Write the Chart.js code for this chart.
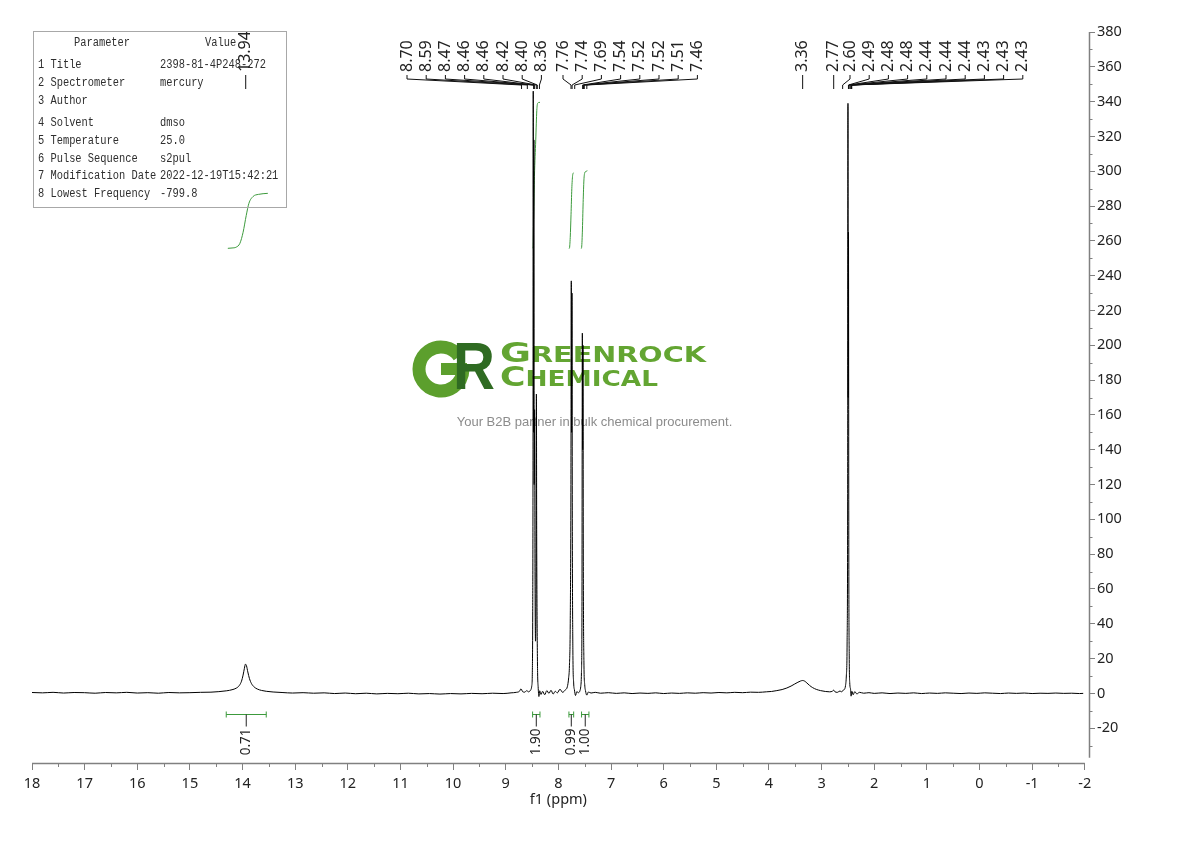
<!DOCTYPE html>
<html>
<head>
<meta charset="utf-8">
<script src="https://cdn.jsdelivr.net/npm/chart.js@4.4.0/dist/chart.umd.min.js"></script>
<style>
  html, body { margin: 0; padding: 0; background: #fff; }
  #wrap { width: 1190px; height: 841px; }
</style>
</head>
<body>
<div id="wrap"><canvas id="nmr" width="1190" height="841"></canvas></div>
<script>
// Espectro: deslocamento (ppm) e intensidade
const specPpm = [
  18.00, 17.80, 17.60, 17.40, 17.20, 17.00, 16.80, 16.60, 16.40, 16.20, 16.00, 15.80, 15.60, 15.40, 15.20, 15.00,
  14.80, 14.60, 14.45, 14.30, 14.20, 14.12, 14.06, 14.02, 13.99, 13.965, 13.945, 13.925, 13.90, 13.87, 13.83, 13.78,
  13.72, 13.64, 13.55, 13.42, 13.25, 13.05, 12.85, 12.65, 12.45, 12.25, 12.05, 11.85, 11.65, 11.45, 11.25, 11.05,
  10.85, 10.65, 10.45, 10.25, 10.05, 9.85, 9.65, 9.45, 9.25, 9.05, 8.90, 8.80, 8.74, 8.71, 8.68, 8.64, 8.60, 8.57,
  8.53, 8.505, 8.495, 8.488, 8.482, 8.478, 8.472, 8.466, 8.460, 8.452, 8.444, 8.435, 8.424, 8.418, 8.412, 8.404,
  8.395, 8.385, 8.37, 8.355, 8.33, 8.30, 8.26, 8.22, 8.18, 8.14, 8.10, 8.06, 8.02, 7.97, 7.92, 7.87, 7.83, 7.805,
  7.79, 7.775, 7.762, 7.755, 7.749, 7.742, 7.735, 7.725, 7.71, 7.695, 7.675, 7.65, 7.62, 7.59, 7.575, 7.562, 7.552,
  7.545, 7.539, 7.533, 7.526, 7.515, 7.50, 7.485, 7.46, 7.43, 7.38, 7.30, 7.20, 7.05, 6.90, 6.75, 6.60, 6.45, 6.30,
  6.15, 6.00, 5.85, 5.70, 5.55, 5.40, 5.25, 5.10, 4.95, 4.80, 4.65, 4.50, 4.35, 4.20, 4.05, 3.95, 3.85, 3.75, 3.66,
  3.58, 3.51, 3.45, 3.40, 3.36, 3.32, 3.28, 3.23, 3.17, 3.10, 3.02, 2.93, 2.85, 2.79, 2.77, 2.75, 2.70, 2.65, 2.62,
  2.60, 2.57, 2.545, 2.53, 2.515, 2.505, 2.499, 2.494, 2.489, 2.483, 2.475, 2.465, 2.45, 2.44, 2.425, 2.40, 2.37,
  2.33, 2.28, 2.20, 2.10, 2.00, 1.85, 1.70, 1.55, 1.40, 1.25, 1.10, 0.95, 0.80, 0.65, 0.50, 0.35, 0.20, 0.05, -0.10,
  -0.25, -0.40, -0.55, -0.70, -0.85, -1.00, -1.15, -1.30, -1.45, -1.60, -1.75, -1.90, -1.97
];
const specInt = [
  0.5, 0.3, 0.6, 0.2, 0.5, 0.4, 0.1, 0.5, 0.3, 0.6, 0.2, 0.4, 0.1, 0.5, 0.3, 0.4,
  0.6, 0.7, 1.0, 1.5, 2.1, 3.0, 4.6, 7.0, 10.5, 14.4, 16.8, 15.8, 12.3, 8.6, 5.6, 3.7,
  2.5, 1.7, 1.2, 0.8, 0.5, 0.2, 0.4, 0.1, 0.3, -0.1, 0.2, -0.2, 0.1, -0.3, 0.0, -0.2,
  0.1, -0.3, -0.1, -0.4, -0.1, -0.3, 0.0, -0.2, 0.1, -0.1, 0.3, 0.6, 1.2, 2.6, 1.0, 0.7, 1.6, 0.9,
  1.8, 4.5, 12, 45, 140, 346, 150, 318, 120, 163, 70, 30, 60, 172, 90, 40,
  12, 4, -1.8, 1.5, -0.6, 1.2, -0.8, 1.6, 0.0, 1.8, -0.4, 1.2, 0.3, 2.4, 0.6, 2.0, 3.8, 9,
  16, 40, 120, 237, 150, 230, 90, 25, 6, 2.0, -1.2, 1.0, 0.4, 1.6, 4, 12, 50,
  207, 140, 200, 70, 18, 5, 1.5, -1.0, 0.8, 0.2, 0.6, 0.1, 0.4, 0.0, 0.3, -0.1, 0.2, 0.0,
  0.3, -0.1, 0.2, 0.0, 0.3, 0.1, 0.4, 0.2, 0.5, 0.3, 0.6, 0.4, 0.7, 0.6, 0.9, 1.1, 1.6, 2.2, 3.1,
  4.2, 5.4, 6.4, 7.1, 7.4, 7.0, 6.0, 4.6, 3.3, 2.3, 1.6, 1.1, 0.9, 1.3, 1.9, 1.0, 0.6, 1.4, 0.8,
  1.6, 2.2, 4.5, 10, 30, 110, 339, 170, 265, 80, 22, 6, 2.5, -1.6, 1.2, -0.8, 1.0,
  -0.3, 0.6, 0.1, 0.4, 0.0, 0.3, -0.1, 0.2, 0.0, 0.3, -0.1, 0.2, 0.0, 0.3, 0.1, -0.1, 0.2, 0.0, 0.3,
  0.1, -0.1, 0.2, 0.0, 0.2, -0.1, 0.1, 0.0, 0.2, 0.0, 0.1, -0.1, 0.0
];

// Curvas de integral (mesma escala vertical)
const int1Ppm = [14.28, 14.20, 14.12, 14.05, 13.99, 13.93, 13.88, 13.80, 13.70, 13.52];
const int1Val = [255.7, 255.9, 256.4, 258.6, 264.9, 274.6, 281.5, 285.5, 286.7, 287.3];
const int2Ppm = [8.490, 8.480, 8.470, 8.455, 8.430, 8.410, 8.395, 8.370, 8.350];
const int2Val = [255.8, 256.5, 275, 297, 318, 335, 339, 339.5, 339.6];
const int3Ppm = [7.800, 7.790, 7.775, 7.760, 7.745, 7.730, 7.720, 7.710];
const int3Val = [255.6, 255.8, 262, 275, 290, 297.5, 298.8, 299.2];
const int4Ppm = [7.570, 7.560, 7.545, 7.530, 7.515, 7.500, 7.470, 7.450];
const int4Val = [255.6, 256, 265, 282, 295, 299, 300, 300.3];

// Faixas e valores das integrais
const integralFrom = [14.31, 8.49, 7.80, 7.56];
const integralTo = [13.55, 8.35, 7.71, 7.42];
const integralText = ['0.71', '1.90', '0.99', '1.00'];

// Rótulos de picos
const peakLabelsA = ['13.94'];
const peakLabelsB = ['8.70', '8.59', '8.47', '8.46', '8.46', '8.42', '8.40', '8.36'];
const peakLabelsC = ['7.76', '7.74', '7.69', '7.54', '7.52', '7.52', '7.51', '7.46'];
const peakLabelsD = ['3.36'];
const peakLabelsE = ['2.77'];
const peakLabelsF = ['2.60', '2.49', '2.48', '2.48', '2.44', '2.44', '2.44', '2.43', '2.43', '2.43'];

// Eixos
const xTicks = [18, 17, 16, 15, 14, 13, 12, 11, 10, 9, 8, 7, 6, 5, 4, 3, 2, 1, 0, -1, -2];
const yTicks = [-20, 0, 20, 40, 60, 80, 100, 120, 140, 160, 180, 200, 220, 240, 260, 280, 300, 320, 340, 360, 380];

// Tabela de parâmetros
const paramNames = ['1 Title', '2 Spectrometer', '3 Author', '4 Solvent', '5 Temperature', '6 Pulse Sequence', '7 Modification Date', '8 Lowest Frequency'];
const paramValues = ['2398-81-4P248-272', 'mercury', '', 'dmso', '25.0', 's2pul', '2022-12-19T15:42:21', '-799.8'];

// layout dos grupos de rótulos (x inicial em px, null = sobre o pico)
const labelRows = [
  { labels: peakLabelsA, x0: null },
  { labels: peakLabelsB, x0: 407 },
  { labels: peakLabelsC, x0: 563 },
  { labels: peakLabelsD, x0: null },
  { labels: peakLabelsE, x0: null },
  { labels: peakLabelsF, x0: 850 }
];
const LABEL_STEP = 19.2;
const GREEN = '#3c9a3c';
const AXIS_GRAY = '#808080';

const pts = (xs, ys) => xs.map((x, i) => ({ x: x, y: ys[i] }));

// Marca d'água
const watermark = {
  id: 'watermark',
  beforeDatasetsDraw(chart) {
    const ctx = chart.ctx;
    ctx.save();
    ctx.strokeStyle = '#5c9f2d';
    ctx.lineWidth = 13;
    ctx.beginPath();
    ctx.arc(441, 369, 22, -0.6, 0.02, true);
    ctx.stroke();
    ctx.fillStyle = '#5c9f2d';
    ctx.fillRect(441, 363, 26, 12);

    ctx.fillStyle = '#2f6b22';
    ctx.font = 'bold 66px "Liberation Sans"';
    ctx.textBaseline = 'alphabetic';
    ctx.save();
    ctx.translate(453, 389);
    ctx.scale(0.88, 1);
    ctx.fillText('R', 0, 0);
    ctx.restore();

    const word = (big, rest, x, y, width) => {
      ctx.save();
      ctx.font = 'bold 27px "DejaVu Sans"';
      const w1 = ctx.measureText(big).width;
      ctx.font = 'bold 20.5px "DejaVu Sans"';
      const w2 = ctx.measureText(rest).width;
      const k = width / (w1 + w2);
      ctx.translate(x, y);
      ctx.scale(k, 1);
      ctx.fillStyle = '#63a532';
      ctx.font = 'bold 27px "DejaVu Sans"';
      ctx.fillText(big, 0, 0);
      ctx.font = 'bold 20.5px "DejaVu Sans"';
      ctx.fillText(rest, w1, 0);
      ctx.restore();
    };
    word('G', 'REENROCK', 500, 362, 206);
    word('C', 'HEMICAL', 500, 386, 158);

    ctx.fillStyle = '#8c8c8c';
    ctx.font = '13px "Liberation Sans"';
    ctx.textAlign = 'center';
    ctx.fillText('Your B2B partner in bulk chemical procurement.', 594.5, 425.5);
    ctx.restore();
  }
};

// Linhas dos eixos, ticks menores, rótulos, integrais e tabela
const annotations = {
  id: 'annotations',
  afterDraw(chart) {
    const { ctx, chartArea } = chart;
    const xs = chart.scales.x, ys = chart.scales.y;
    ctx.save();

    // eixos
    ctx.strokeStyle = AXIS_GRAY;
    ctx.lineWidth = 1.5;
    ctx.beginPath();
    ctx.moveTo(xs.getPixelForValue(18), chartArea.bottom + 0.5);
    ctx.lineTo(xs.getPixelForValue(-2), chartArea.bottom + 0.5);
    ctx.stroke();
    ctx.beginPath();
    ctx.moveTo(chartArea.right + 0.5, ys.getPixelForValue(380));
    ctx.lineTo(chartArea.right + 0.5, ys.getPixelForValue(-37));
    ctx.stroke();

    ctx.lineWidth = 1;
    ctx.beginPath();
    xTicks.slice(0, -1).forEach(v => {
      const px = Math.round(xs.getPixelForValue(v - 0.5)) + 0.5;
      ctx.moveTo(px, chartArea.bottom);
      ctx.lineTo(px, chartArea.bottom + 4);
    });
    yTicks.forEach(v => {
      const py = Math.round(ys.getPixelForValue(v - 10)) + 0.5;
      ctx.moveTo(chartArea.right, py);
      ctx.lineTo(chartArea.right + 3.5, py);
    });
    ctx.stroke();

    // título do eixo x
    ctx.fillStyle = '#222';
    ctx.font = '14.5px "Noto Sans"';
    ctx.textAlign = 'center';
    ctx.textBaseline = 'middle';
    ctx.fillText('f1 (ppm)', xs.getPixelForValue(8), 800);

    // rótulos dos picos
    ctx.strokeStyle = '#111';
    ctx.lineWidth = 1;
    ctx.font = '16px "Noto Sans"';
    labelRows.forEach(row => {
      row.labels.forEach((t, i) => {
        const px = xs.getPixelForValue(parseFloat(t));
        const lx = row.x0 === null ? px : row.x0 + i * LABEL_STEP;
        ctx.beginPath();
        ctx.moveTo(lx, 75);
        ctx.lineTo(lx, 79);
        ctx.lineTo(px, 85);
        ctx.lineTo(px, 89);
        ctx.stroke();
        ctx.save();
        ctx.translate(lx, 72);
        ctx.rotate(-Math.PI / 2);
        ctx.textAlign = 'left';
        ctx.textBaseline = 'middle';
        ctx.fillText(t, 0, 0);
        ctx.restore();
      });
    });

    // colchetes das integrais
    const by = Math.round(ys.getPixelForValue(-12)) + 0.5;
    ctx.font = '13.5px "Noto Sans"';
    integralText.forEach((t, i) => {
      const a = xs.getPixelForValue(integralFrom[i]);
      const b = xs.getPixelForValue(integralTo[i]);
      const c = (a + b) / 2;
      ctx.strokeStyle = GREEN;
      ctx.beginPath();
      ctx.moveTo(a, by); ctx.lineTo(b, by);
      ctx.moveTo(a, by - 3); ctx.lineTo(a, by + 3);
      ctx.moveTo(b, by - 3); ctx.lineTo(b, by + 3);
      ctx.stroke();
      ctx.strokeStyle = '#222';
      ctx.beginPath();
      ctx.moveTo(c, by); ctx.lineTo(c, by + 12);
      ctx.stroke();
      ctx.save();
      ctx.translate(c, by + 14);
      ctx.rotate(-Math.PI / 2);
      ctx.textAlign = 'right';
      ctx.textBaseline = 'middle';
      ctx.fillStyle = '#222';
      ctx.fillText(t, 0, 0);
      ctx.restore();
    });

    // tabela de parâmetros (fonte mono esticada na vertical)
    ctx.strokeStyle = '#a8a8a8';
    ctx.lineWidth = 1;
    ctx.strokeRect(33.5, 31.5, 253, 176);
    ctx.fillStyle = '#2e2e2e';
    ctx.font = '12px "Liberation Mono"';
    ctx.textBaseline = 'middle';
    ctx.textAlign = 'left';
    const mono = (s, x, y) => {
      ctx.save();
      ctx.translate(x, y);
      ctx.scale(0.865, 1);
      ctx.fillText(s, 0, 0);
      ctx.restore();
    };
    mono('Parameter', 74, 43);
    mono('Value', 205, 43);
    const rowY = [65, 83, 101, 123, 141, 159, 176, 194];
    paramNames.forEach((n, i) => {
      mono(n, 38, rowY[i]);
      mono(paramValues[i], 160, rowY[i]);
    });
    ctx.restore();
  }
};

const tickFont = { family: 'Noto Sans', size: 14.5 };

new Chart(document.getElementById('nmr'), {
  type: 'line',
  data: {
    datasets: [
      { data: pts(specPpm, specInt), borderColor: '#000', borderWidth: 1, cubicInterpolationMode: 'monotone' },
      { data: pts(int1Ppm, int1Val), borderColor: GREEN, borderWidth: 1, cubicInterpolationMode: 'monotone' },
      { data: pts(int2Ppm, int2Val), borderColor: GREEN, borderWidth: 1, cubicInterpolationMode: 'monotone' },
      { data: pts(int3Ppm, int3Val), borderColor: GREEN, borderWidth: 1, cubicInterpolationMode: 'monotone' },
      { data: pts(int4Ppm, int4Val), borderColor: GREEN, borderWidth: 1, cubicInterpolationMode: 'monotone' }
    ]
  },
  options: {
    responsive: false,
    animation: false,
    devicePixelRatio: 1,
    layout: { padding: { left: 32, top: 32, right: 0, bottom: 0 } },
    elements: { point: { radius: 0 } },
    plugins: { legend: { display: false }, tooltip: { enabled: false } },
    scales: {
      x: {
        type: 'linear', reverse: true, min: -2.08, max: 18,
        afterBuildTicks: s => { s.ticks = xTicks.map(v => ({ value: v })); },
        afterFit: s => { s.height = 78; },
        grid: { drawOnChartArea: false, drawTicks: true, tickLength: 7, color: AXIS_GRAY, lineWidth: 1 },
        border: { display: false },
        ticks: { font: tickFont, color: '#222', padding: 5, maxRotation: 0, autoSkip: false, callback: v => String(v) }
      },
      y: {
        type: 'linear', position: 'right', min: -40, max: 380,
        afterBuildTicks: s => { s.ticks = yTicks.map(v => ({ value: v })); },
        afterFit: s => { s.width = 101; },
        grid: { drawOnChartArea: false, drawTicks: true, tickLength: 6, color: AXIS_GRAY, lineWidth: 1 },
        border: { display: false },
        ticks: { font: tickFont, color: '#222', padding: 2, autoSkip: false, callback: v => String(v) }
      }
    }
  },
  plugins: [watermark, annotations]
});
</script>
</body>
</html>
